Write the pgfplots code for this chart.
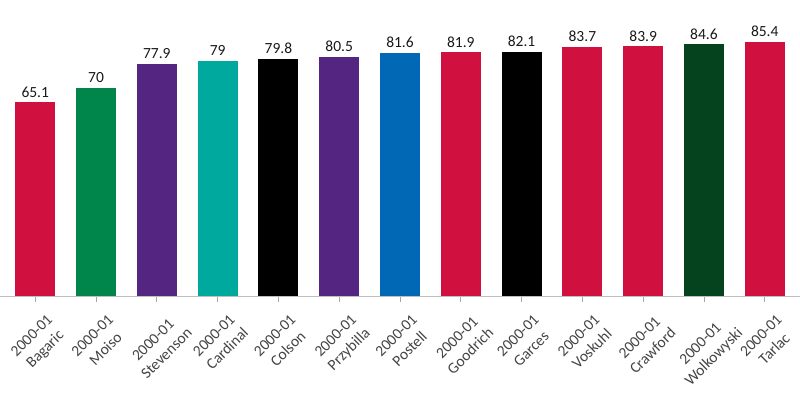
\documentclass[border=0pt]{standalone}
\usepackage{pgfplots}
\pgfplotsset{compat=1.18}
\usepackage{graphicx}
\usepackage{fontspec}
\setmainfont{Carlito}
\definecolor{cred}{HTML}{D0103F}
\definecolor{cgreen}{HTML}{00854A}
\definecolor{cpurple}{HTML}{552681}
\definecolor{cteal}{HTML}{00A99D}
\definecolor{cblue}{HTML}{0068B5}
\definecolor{cdkgreen}{HTML}{05431E}
\definecolor{labgray}{HTML}{444444}
\newcommand{\lab}[1]{\rotatebox{45}{\begin{tabular}{@{}c@{}}2000-01\\[2pt]#1\end{tabular}}}
\begin{document}
\begin{tikzpicture}
\begin{axis}[
  scale only axis,
  width=800pt, height=296pt,
  xmin=-0.58, xmax=12.58,
  ymin=0, ymax=99.5,
  axis x line*=bottom,
  axis y line=none,
  x axis line style={draw=black!25, line width=0.8pt, -},
  ybar, bar width=0.66, bar shift=0pt,
  xtick={0,1,2,3,4,5,6,7,8,9,10,11,12},
  xticklabels={\lab{Bagaric},\lab{Moiso},\lab{Stevenson},\lab{Cardinal},\lab{Colson},\lab{Przybilla},\lab{Postell},\lab{Goodrich},\lab{Garces},\lab{Voskuhl},\lab{Crawford},\lab{Wolkowyski},\lab{Tarlac}},
  xtick align=outside,
  major tick length=6pt,
  xtick style={draw=black!35, line width=0.8pt},
  xticklabel style={anchor=north, font=\fontsize{15.5pt}{17pt}\selectfont, text=labgray, inner sep=0pt, yshift=-10pt, xshift=4pt},
  nodes near coords,
  every node near coord/.append style={anchor=south, inner sep=0pt, yshift=5pt, font=\fontsize{15.5pt}{16pt}\selectfont, text=black!90},
  point meta=explicit symbolic,
  clip=false,
]
\addplot[fill=cred, draw=none] coordinates {(0,65.1) [65.1]};
\addplot[fill=cgreen, draw=none] coordinates {(1,70) [70]};
\addplot[fill=cpurple, draw=none] coordinates {(2,77.9) [77.9]};
\addplot[fill=cteal, draw=none] coordinates {(3,79) [79]};
\addplot[fill=black, draw=none] coordinates {(4,79.8) [79.8]};
\addplot[fill=cpurple, draw=none] coordinates {(5,80.5) [80.5]};
\addplot[fill=cblue, draw=none] coordinates {(6,81.6) [81.6]};
\addplot[fill=cred, draw=none] coordinates {(7,81.9) [81.9]};
\addplot[fill=black, draw=none] coordinates {(8,82.1) [82.1]};
\addplot[fill=cred, draw=none] coordinates {(9,83.7) [83.7]};
\addplot[fill=cred, draw=none] coordinates {(10,83.9) [83.9]};
\addplot[fill=cdkgreen, draw=none] coordinates {(11,84.6) [84.6]};
\addplot[fill=cred, draw=none] coordinates {(12,85.4) [85.4]};
\end{axis}
\pgfresetboundingbox
\path[use as bounding box] (0,-102pt) rectangle (800pt,296pt);
\end{tikzpicture}
\end{document}
